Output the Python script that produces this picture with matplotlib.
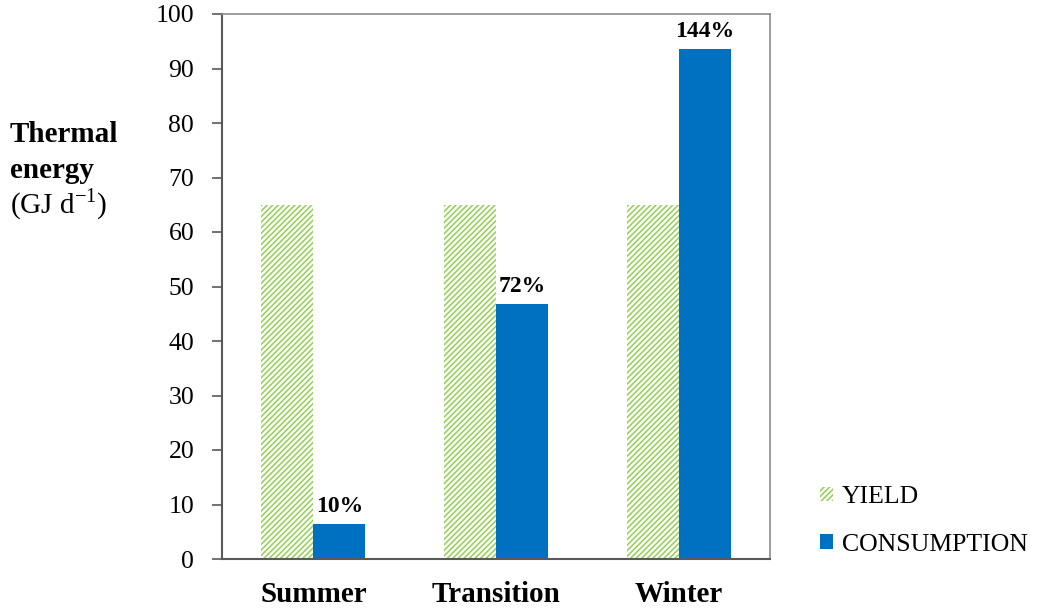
import numpy as np
import matplotlib.pyplot as plt
import matplotlib

matplotlib.rcParams['font.family'] = ['Liberation Serif', 'DejaVu Serif']
matplotlib.rcParams['mathtext.fontset'] = 'custom'
matplotlib.rcParams['mathtext.rm'] = 'Liberation Serif'
matplotlib.rcParams['hatch.linewidth'] = 1.1

seasons = ['Summer', 'Transition', 'Winter']
yield_vals = [65, 65, 65]
consumption_vals = [6.5, 46.8, 93.6]
pct_labels = ['10%', '72%', '144%']

GREEN = '#92D050'
BLUE = '#0070C0'

fig = plt.figure(figsize=(10.39, 6.10), dpi=100)
ax = fig.add_axes([222 / 1039, 51 / 610, 548 / 1039, 545 / 610])

x = np.arange(len(seasons))
w = 0.285
ax.bar(x - w / 2, yield_vals, w, facecolor='white', edgecolor=GREEN,
       hatch='//////', linewidth=0, label='YIELD')
bars = ax.bar(x + w / 2, consumption_vals, w, color=BLUE, linewidth=0,
              label='CONSUMPTION')

for b, txt in zip(bars, pct_labels):
    ax.annotate(txt, (b.get_x() + b.get_width() / 2, b.get_height()),
                xytext=(0, 5), textcoords='offset points', ha='center',
                va='bottom', fontsize=17, fontweight='bold')

ax.set_xlim(-0.5, 2.5)
ax.set_ylim(0, 100)
ax.set_yticks(np.arange(0, 101, 10))
ax.set_xticks(x)
ax.set_xticklabels(seasons, fontsize=21, fontweight='bold')
ax.tick_params(axis='x', length=0, pad=16)
ax.tick_params(axis='y', direction='out', length=7, width=1.2,
               color='#595959', labelsize=18.5, pad=13)

for side in ['left', 'bottom']:
    ax.spines[side].set_color('#595959')
    ax.spines[side].set_linewidth(1.5)
for side in ['top', 'right']:
    ax.spines[side].set_color('#8c8c8c')
    ax.spines[side].set_linewidth(1.2)

# y label split over lines with mixed weights
fig.text(10 / 1039, 1 - 135 / 610, 'Thermal', fontsize=21, fontweight='bold',
         ha='left', va='center')
fig.text(10 / 1039, 1 - 170 / 610, 'energy', fontsize=21, fontweight='bold',
         ha='left', va='center')
fig.text(10 / 1039, 1 - 204 / 610, r'(GJ d$^{-1}$)', fontsize=21,
         ha='left', va='center')

fig.legend(loc='center left', bbox_to_anchor=(820 / 1039, 1 - 521 / 610),
           frameon=False, fontsize=18.5, handlelength=0.5, handleheight=0.5,
           handletextpad=0.35, labelspacing=1.0, borderpad=0, borderaxespad=0)

fig.savefig('out.png', dpi=100)
